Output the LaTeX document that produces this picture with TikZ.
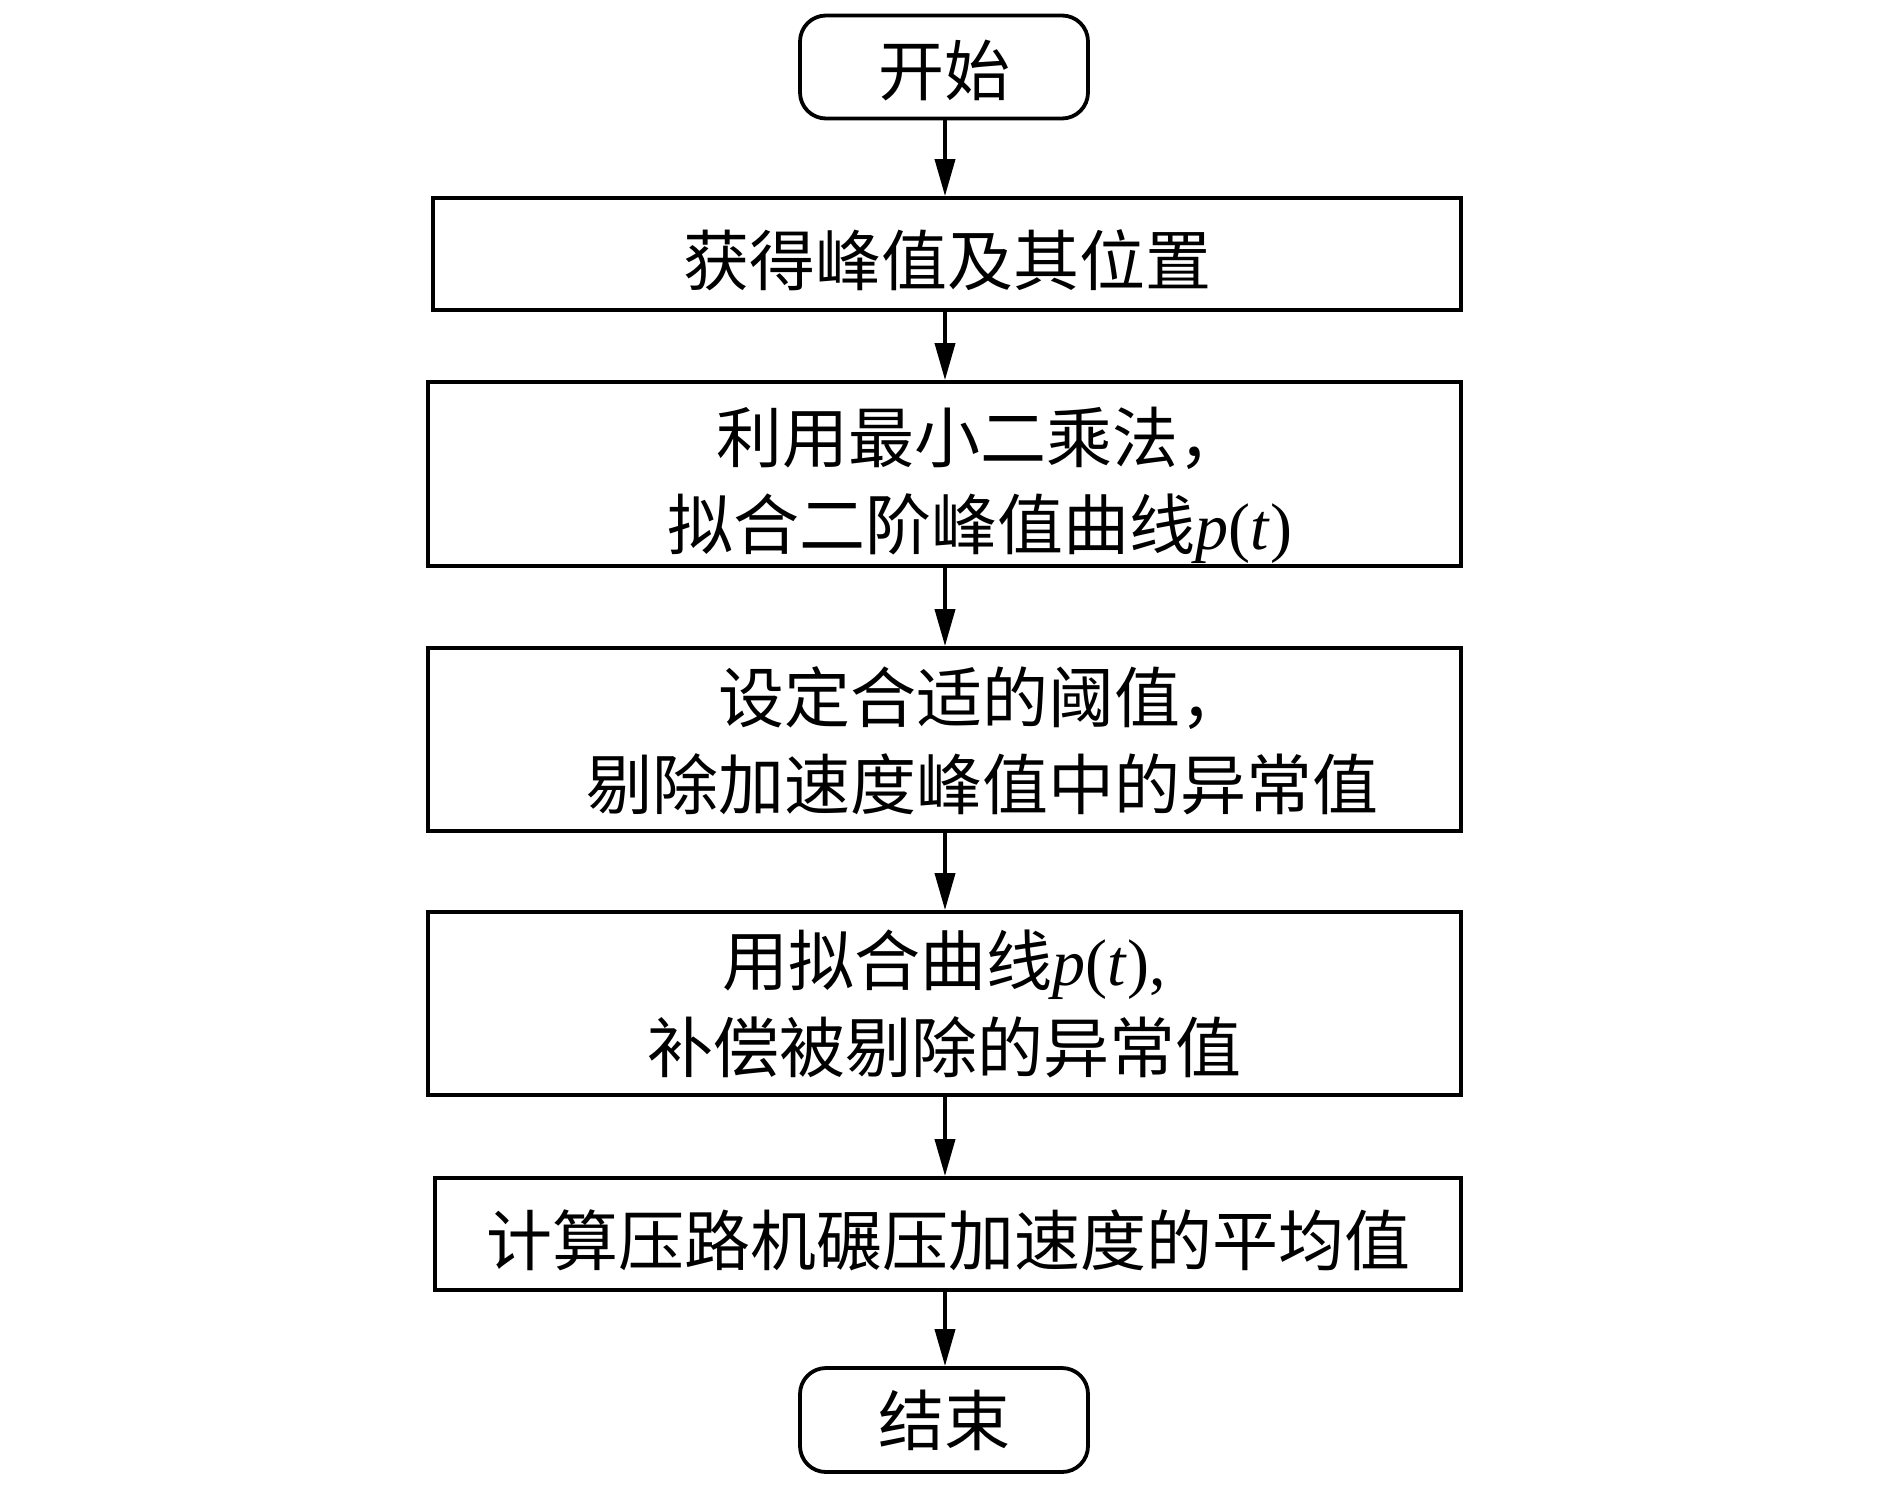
\documentclass[tikz,border=0pt]{standalone}
\usepackage{fontspec}
\setmainfont{Liberation Serif}
\newfontfamily\cjk{Noto Sans CJK SC}
\usetikzlibrary{arrows.meta}
\begin{document}
\begin{tikzpicture}[x=0.5pt,y=-0.5pt,
  box/.style={draw, line width=1.9pt, minimum width=#1, inner sep=0pt, align=center,
    font=\fontsize{33pt}{43.5pt}\selectfont\cjk},
  term/.style={box=144pt, rounded corners=13pt, minimum height=51.5pt},
  txt/.style={inner sep=0pt, align=center, font=\fontsize{33pt}{43.5pt}\selectfont\cjk},
  arr/.style={line width=1.9pt, -{Triangle[length=18.5pt,width=10pt]}}]
\useasboundingbox (0,0) rectangle (1890,1488);
\node[term] (start) at (944,67) {\raisebox{-2pt}[\height][\depth]{开始}};
\node[box=514pt, minimum height=56pt] (b1) at (947,254) {\raisebox{-3pt}[\height][\depth]{获得峰值及其位置}};
\node[box=516.5pt, minimum height=92pt] (b2) at (944.5,474) {};
\node[txt] (t2) at (980,485) {利用最小二乘法，\\拟合二阶峰值曲线{\rmfamily\textit{p}(\textit{t})}};
\node[box=516.5pt, minimum height=91.5pt] (b3) at (944.5,739.5) {};
\node[txt] (t3) at (982,741) {设定合适的阈值，\\剔除加速度峰值中的异常值};
\node[box=516.5pt, minimum height=91.5pt] (b4) at (944.5,1003.5) {用拟合曲线{\rmfamily\textit{p}(\textit{t}),}\\补偿被剔除的异常值};
\node[box=513pt, minimum height=56pt] (b5) at (948,1234) {\raisebox{-3pt}[\height][\depth]{计算压路机碾压加速度的平均值}};
\node[term, minimum height=52pt] (end) at (944,1420) {结束};
\draw[arr] (start.south -| 945,0) -- (b1.north -| 945,0);
\draw[arr] (b1.south -| 945,0) -- (b2.north -| 945,0);
\draw[arr] (b2.south -| 945,0) -- (b3.north -| 945,0);
\draw[arr] (b3.south -| 945,0) -- (b4.north -| 945,0);
\draw[arr] (b4.south -| 945,0) -- (b5.north -| 945,0);
\draw[arr] (b5.south -| 945,0) -- (end.north -| 945,0);
\end{tikzpicture}
\end{document}
